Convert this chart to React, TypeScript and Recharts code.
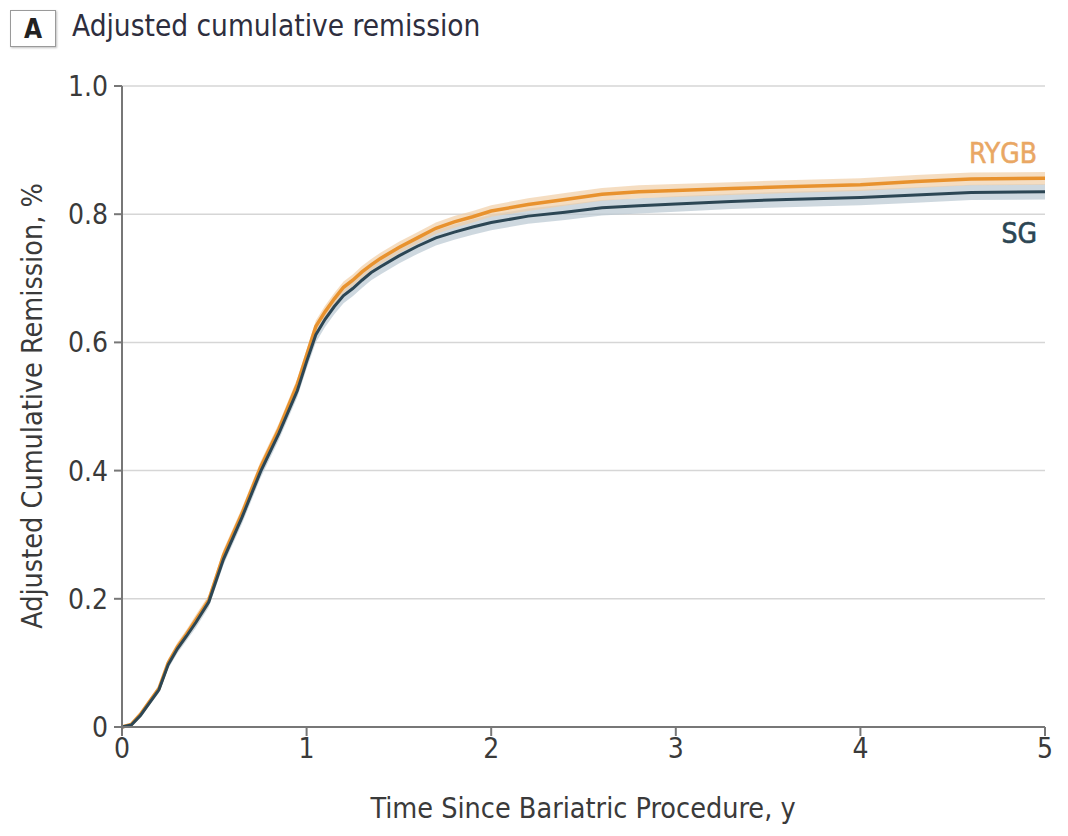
import { Area, CartesianGrid, ComposedChart, Line, XAxis, YAxis } from 'recharts';

// Years since procedure
const years = [
  0, 0.05, 0.1, 0.15, 0.2, 0.25, 0.3, 0.35, 0.4, 0.47, 0.55, 0.65, 0.75, 0.85, 0.95, 1.0, 1.05, 1.1, 1.15, 1.2, 1.25,
  1.3, 1.35, 1.4, 1.5, 1.6, 1.7, 1.8, 1.9, 2.0, 2.2, 2.4, 2.6, 2.8, 3.0, 3.3, 3.6, 4.0, 4.3, 4.6, 5.0,
];

const rygb = [
  0, 0.004, 0.02, 0.04, 0.06, 0.1, 0.125, 0.145, 0.167, 0.198, 0.268, 0.333, 0.405, 0.465, 0.535, 0.58, 0.625, 0.648,
  0.668, 0.686, 0.697, 0.71, 0.721, 0.731, 0.748, 0.763, 0.778, 0.788, 0.796, 0.805, 0.815, 0.823, 0.831, 0.835,
  0.837, 0.84, 0.843, 0.846, 0.851, 0.855, 0.856,
];
const rygbLow = [
  0, 0.002, 0.017, 0.036, 0.055, 0.094, 0.118, 0.138, 0.159, 0.19, 0.259, 0.324, 0.396, 0.456, 0.526, 0.571, 0.616,
  0.639, 0.659, 0.677, 0.688, 0.701, 0.712, 0.722, 0.739, 0.754, 0.769, 0.779, 0.787, 0.796, 0.805, 0.813, 0.821,
  0.825, 0.827, 0.83, 0.833, 0.836, 0.841, 0.845, 0.846,
];
const rygbHigh = [
  0, 0.006, 0.023, 0.044, 0.065, 0.106, 0.132, 0.152, 0.175, 0.206, 0.277, 0.342, 0.414, 0.474, 0.544, 0.589, 0.634,
  0.657, 0.677, 0.695, 0.706, 0.719, 0.73, 0.74, 0.757, 0.772, 0.787, 0.797, 0.805, 0.814, 0.825, 0.833, 0.841,
  0.845, 0.847, 0.85, 0.853, 0.856, 0.861, 0.865, 0.866,
];

const sg = [
  0, 0.003, 0.018, 0.038, 0.058, 0.097, 0.122, 0.142, 0.163, 0.195, 0.262, 0.327, 0.398, 0.458, 0.525, 0.57, 0.612,
  0.636, 0.656, 0.673, 0.684, 0.697, 0.709, 0.718, 0.735, 0.75, 0.763, 0.772, 0.78, 0.787, 0.797, 0.803, 0.81, 0.813,
  0.816, 0.82, 0.823, 0.826, 0.83, 0.834, 0.835,
];
const sgLow = [
  0, 0.001, 0.015, 0.034, 0.053, 0.091, 0.115, 0.135, 0.155, 0.187, 0.253, 0.317, 0.388, 0.448, 0.515, 0.559, 0.6,
  0.624, 0.644, 0.661, 0.672, 0.685, 0.697, 0.706, 0.723, 0.738, 0.751, 0.76, 0.768, 0.775, 0.785, 0.791, 0.798,
  0.801, 0.804, 0.808, 0.811, 0.814, 0.818, 0.822, 0.823,
];
const sgHigh = [
  0, 0.005, 0.021, 0.042, 0.063, 0.103, 0.129, 0.149, 0.171, 0.203, 0.271, 0.337, 0.408, 0.468, 0.535, 0.581, 0.624,
  0.648, 0.668, 0.685, 0.696, 0.709, 0.721, 0.73, 0.747, 0.762, 0.775, 0.784, 0.792, 0.799, 0.809, 0.815, 0.822,
  0.825, 0.828, 0.832, 0.835, 0.838, 0.842, 0.846, 0.847,
];

const xTicks = [0, 1, 2, 3, 4, 5];
const yTicks = [0, 0.2, 0.4, 0.6, 0.8, 1.0];

const rows = years.map((t, i) => ({
  t,
  rygb: rygb[i],
  sg: sg[i],
  rygbBand: [rygbLow[i], rygbHigh[i]],
  sgBand: [sgLow[i], sgHigh[i]],
}));

const FONT = '"Liberation Sans Narrow", "DejaVu Sans Condensed", "Liberation Sans", sans-serif';
const ORANGE = '#e8922e';
const NAVY = '#2c4654';
const TEXT = '#3a3a3a';

const formatY = (v: number) => (v === 0 ? '0' : v.toFixed(1));

export default function App() {
  return (
    <div style={{ position: 'absolute', left: 0, top: 0, width: 1068, height: 836, background: '#fff', fontFamily: FONT }}>
      <div
        style={{
          position: 'absolute',
          left: 10,
          top: 10,
          width: 44,
          height: 35,
          border: '1.5px solid #9a9a9a',
          boxShadow: '1px 1px 2px rgba(0,0,0,0.25)',
          display: 'flex',
          alignItems: 'center',
          justifyContent: 'center',
          fontWeight: 'bold',
          fontSize: 26,
          color: '#222',
        }}
      >
        A
      </div>
      <div style={{ position: 'absolute', left: 72, top: 9, fontSize: 29.5, color: '#2e2e3e' }}>
        Adjusted cumulative remission
      </div>
      <div
        style={{
          position: 'absolute',
          left: 32,
          top: 406,
          transform: 'translate(-50%, -50%) rotate(-90deg)',
          whiteSpace: 'nowrap',
          fontSize: 28.5,
          color: TEXT,
        }}
      >
        Adjusted Cumulative Remission, %
      </div>
      <div
        style={{
          position: 'absolute',
          left: 583,
          top: 808,
          transform: 'translate(-50%, -50%)',
          whiteSpace: 'nowrap',
          fontSize: 28.5,
          color: TEXT,
        }}
      >
        Time Since Bariatric Procedure, y
      </div>
      <div style={{ position: 'absolute', right: 31, top: 137, fontSize: 28, color: '#e9a764', WebkitTextStroke: '0.5px #e9a764' }}>
        RYGB
      </div>
      <div style={{ position: 'absolute', right: 31, top: 217, fontSize: 28, color: NAVY, WebkitTextStroke: '0.6px #2c4654' }}>
        SG
      </div>

      <ComposedChart
        width={1068}
        height={836}
        data={rows}
        margin={{ top: 86, right: 23, bottom: 49, left: 52 }}
        style={{ position: 'absolute', left: 0, top: 0 }}
      >
        <CartesianGrid horizontal vertical={false} stroke="#d6d6d6" strokeWidth={1.5} />
        <XAxis
          dataKey="t"
          type="number"
          domain={[0, 5]}
          ticks={xTicks}
          height={60}
          axisLine={{ stroke: '#777', strokeWidth: 2 }}
          tickLine={{ stroke: '#777', strokeWidth: 2 }}
          tickSize={9}
          tick={{ fill: TEXT, fontSize: 28, fontFamily: FONT }}
          tickMargin={2}
        />
        <YAxis
          type="number"
          domain={[0, 1]}
          ticks={yTicks}
          width={70}
          tickFormatter={formatY}
          axisLine={{ stroke: '#777', strokeWidth: 2 }}
          tickLine={{ stroke: '#777', strokeWidth: 2 }}
          tickSize={8}
          tick={{ fill: TEXT, fontSize: 28, fontFamily: FONT }}
          tickMargin={6}
        />
        <Area
          dataKey="sgBand"
          type="linear"
          stroke="none"
          fill="#b9c8d2"
          fillOpacity={0.7}
          isAnimationActive={false}
        />
        <Area
          dataKey="rygbBand"
          type="linear"
          stroke="none"
          fill="#f1cfa6"
          fillOpacity={0.7}
          isAnimationActive={false}
        />
        <Line dataKey="rygb" type="linear" stroke={ORANGE} strokeWidth={3.5} dot={false} isAnimationActive={false} />
        <Line dataKey="sg" type="linear" stroke={NAVY} strokeWidth={3} dot={false} isAnimationActive={false} />
      </ComposedChart>
    </div>
  );
}
